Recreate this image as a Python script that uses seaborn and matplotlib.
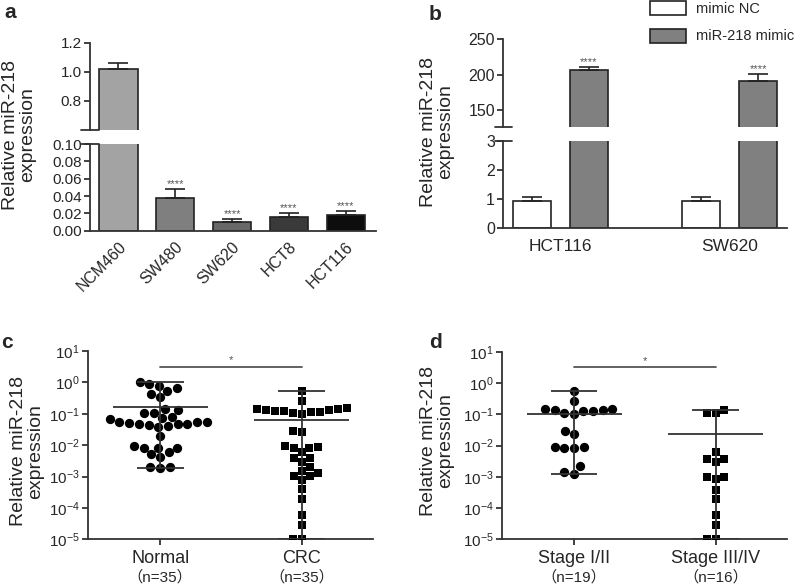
import matplotlib
matplotlib.use("Agg")
import matplotlib.pyplot as plt
import matplotlib.transforms as mtransforms
from matplotlib.patches import Patch
from matplotlib.ticker import FormatStrFormatter, NullLocator, LogLocator
import seaborn as sns
import pandas as pd
import numpy as np

# panel a: cell lines
lines_a = ["NCM460", "SW480", "SW620", "HCT8", "HCT116"]
expr_a = [1.02, 0.038, 0.0104, 0.0158, 0.0178]
err_a = [0.042, 0.0097, 0.0031, 0.005, 0.0046]
colors_a = ["#a3a3a3", "#7f7f7f", "#686868", "#3a3a3a", "#0d0d0d"]
stars_a = ["", "****", "****", "****", "****"]

# panel b: mimic transfection
lines_b = ["HCT116", "SW620"]
groups_b = ["mimic NC", "miR-218 mimic"]
colors_b = ["white", "#808080"]
nc_b = [0.93, 0.92]
nc_err_b = [0.14, 0.14]
mimic_b = [206.6, 190.4]
mimic_err_b = [4.3, 10.5]

# panel c: tissues
normal_c = [1.0, 0.86, 0.77, 0.65, 0.53, 0.43, 0.33, 0.14, 0.135,
            0.108, 0.103, 0.08, 0.072, 0.07, 0.055, 0.054, 0.053, 0.05,
            0.047, 0.046, 0.046, 0.045, 0.04, 0.039,
            0.02,
            0.0093, 0.0083, 0.0082, 0.0081, 0.0059, 0.0051, 0.0042,
            0.002, 0.00195, 0.0019]
crc_c = [0.54, 0.26,
         0.15, 0.145, 0.14, 0.13, 0.125, 0.12, 0.115, 0.11, 0.105, 0.1, 0.135,
         0.029, 0.026,
         0.0093, 0.0089, 0.0083, 0.0082,
         0.0059, 0.004, 0.0038,
         0.0029, 0.002,
         0.00151, 0.00126, 0.00106, 0.00105, 0.00078,
         0.00039, 0.00019, 0.000059, 0.000028, 0.00001, 0.00001]

# panel d: stages
early_d = [0.54, 0.26,
           0.142, 0.132, 0.126, 0.108, 0.1, 0.126, 0.132, 0.142,
           0.03, 0.024,
           0.0092, 0.0088, 0.0083, 0.0083,
           0.0022, 0.0014, 0.00126]
late_d = [0.138, 0.111, 0.11,
          0.0061, 0.0038, 0.0036, 0.0029,
          0.001, 0.001, 0.00082,
          0.00039, 0.0002, 0.000059, 0.000028, 0.00001, 0.00001]

sns.set_style("ticks")
plt.rcParams["font.family"] = ["Liberation Sans", "Noto Sans CJK SC", "DejaVu Sans"]
plt.rcParams["mathtext.default"] = "regular"

EDGE = "#222222"
AXC = "#333333"


def style(ax, bottom=True):
    sns.despine(ax=ax, bottom=not bottom)
    for s in ["left", "bottom"]:
        ax.spines[s].set_linewidth(1.3)
        ax.spines[s].set_color(AXC)
    ax.tick_params(width=1.3, length=4, color=AXC, labelsize=11, pad=2)
    ax.set_xlabel("")
    ax.set_ylabel("")


def break_marks(ax, where):
    y = 0 if where == "bottom" else 1
    ax.plot([-0.03, 0.03], [y, y], transform=ax.transAxes, color=AXC,
            lw=1.3, clip_on=False)


fig = plt.figure(figsize=(7.97, 5.85), dpi=100)

# ---------- a ----------
ax_at = fig.add_axes([0.1129, 0.7778, 0.3589, 0.1492])
ax_ab = fig.add_axes([0.1129, 0.6056, 0.3589, 0.1482])
df_a = pd.DataFrame({"line": lines_a, "expr": expr_a})
for ax in (ax_at, ax_ab):
    sns.barplot(data=df_a, x="line", y="expr", hue="line", palette=colors_a,
                legend=False, width=0.675, edgecolor=EDGE, linewidth=1.2,
                errorbar=None, ax=ax)
    ax.errorbar(range(len(lines_a)), expr_a, yerr=[np.zeros(len(err_a)), err_a],
                fmt="none", ecolor=EDGE, elinewidth=1.2, capsize=7, capthick=1.2)
    ax.set_xlim(-0.5, 4.53)
ax_at.set_ylim(0.6, 1.2)
ax_at.set_yticks([0.8, 1.0, 1.2])
ax_at.yaxis.set_major_formatter(FormatStrFormatter("%.1f"))
style(ax_at, bottom=False)
ax_at.set_xticks([])
break_marks(ax_at, "bottom")
ax_ab.set_ylim(0, 0.1)
ax_ab.set_yticks(np.arange(0, 0.101, 0.02))
ax_ab.yaxis.set_major_formatter(FormatStrFormatter("%.2f"))
style(ax_ab)
ax_ab.tick_params(axis="y", labelsize=11)
ax_at.tick_params(axis="y", labelsize=11)
break_marks(ax_ab, "top")
ax_ab.tick_params(axis="x", length=0, pad=6, labelsize=11.5)
plt.setp(ax_ab.get_xticklabels(), rotation=45, ha="right", rotation_mode="anchor")
for i, s in enumerate(stars_a):
    if s:
        ax_ab.annotate(s, (i, expr_a[i] + err_a[i]), xytext=(0, 0),
                       textcoords="offset points", ha="center", va="bottom",
                       fontsize=8, color="#555555")

# ---------- b ----------
ax_bt = fig.add_axes([0.6315, 0.7824, 0.3556, 0.1504])
ax_bb = fig.add_axes([0.6315, 0.6097, 0.3556, 0.1497])
df_b = pd.DataFrame({"line": lines_b * 2,
                     "group": [groups_b[0]] * 2 + [groups_b[1]] * 2,
                     "expr": nc_b + mimic_b})
err_b = {groups_b[0]: nc_err_b, groups_b[1]: mimic_err_b}
for ax in (ax_bt, ax_bb):
    sns.barplot(data=df_b, x="line", y="expr", hue="group", palette=colors_b,
                width=0.672, gap=0.33, edgecolor=EDGE, linewidth=1.2,
                errorbar=None, legend=False, ax=ax)
    for cont, g in zip(ax.containers, groups_b):
        xs = [p.get_x() + p.get_width() / 2 for p in cont]
        ax.errorbar(xs, cont.datavalues, yerr=[np.zeros(len(xs)), err_b[g]],
                    fmt="none", ecolor=EDGE, elinewidth=1.2, capsize=7, capthick=1.2)
    ax.set_xlim(-0.336, 1.336)
ax_bt.set_ylim(125, 250)
ax_bt.set_yticks([150, 200, 250])
style(ax_bt, bottom=False)
ax_bt.set_xticks([])
break_marks(ax_bt, "bottom")
ax_bb.set_ylim(0, 3)
ax_bb.set_yticks([0, 1, 2, 3])
style(ax_bb)
break_marks(ax_bb, "top")
ax_bb.tick_params(axis="x", length=0, pad=8, labelsize=12.5)
ax_bt.tick_params(axis="y", labelsize=11.5)
ax_bb.tick_params(axis="y", labelsize=11.5)
cont = ax_bt.containers[1]
for p, e in zip(cont, mimic_err_b):
    ax_bt.annotate("****", (p.get_x() + p.get_width() / 2, p.get_height() + e),
                   xytext=(0, 0), textcoords="offset points", ha="center",
                   va="bottom", fontsize=8, color="#555555")
handles = [Patch(facecolor=c, edgecolor=EDGE, linewidth=1.2) for c in colors_b]
fig.legend(handles, groups_b, loc="upper left", bbox_to_anchor=(0.8155, 0.998),
           frameon=False, borderpad=0, borderaxespad=0, handlelength=2.5,
           handleheight=1.1, labelspacing=0.85, handletextpad=0.65, fontsize=10.5)


# ---------- c / d ----------
def scatter_panel(ax, names, ns, v1, v2):
    sns.swarmplot(x=[names[0]] * len(v1), y=v1, order=names, color="black",
                  marker="o", size=6.7, log_scale=True, ax=ax)
    sns.swarmplot(x=[names[1]] * len(v2), y=v2, order=names, color="black",
                  marker="s", size=6.2, log_scale=True, ax=ax)
    for i, v in enumerate([v1, v2]):
        m, lo, hi = np.mean(v), np.min(v), np.max(v)
        ax.vlines(i, lo, hi, color=AXC, lw=1.3, zorder=4)
        ax.hlines(m, i - 0.335, i + 0.335, color=AXC, lw=1.3, zorder=4)
        ax.hlines([lo, hi], i - 0.165, i + 0.165, color=AXC, lw=1.3, zorder=4)
    ax.set_ylim(1e-5, 10)
    ax.set_xlim(-0.51, 1.5)
    ax.yaxis.set_major_locator(LogLocator(base=10, numticks=10))
    ax.yaxis.set_minor_locator(NullLocator())
    style(ax)
    ax.tick_params(axis="y", labelsize=11)
    ax.tick_params(axis="x", labelsize=13, pad=4)
    ax.plot([0, 1], [3.16, 3.16], color="#555555", lw=1.3)
    ax.annotate("*", (0.5, 3.16), xytext=(0, 1), textcoords="offset points",
                ha="center", va="bottom", fontsize=8, color="#555555")
    tr = mtransforms.blended_transform_factory(ax.transData, ax.transAxes)
    for i, n in enumerate(ns):
        ax.text(i, -0.2, f"（n={n}）", transform=tr, ha="center", va="center",
                fontsize=11)


ax_c = fig.add_axes([0.1104, 0.0781, 0.3572, 0.3219])
scatter_panel(ax_c, ["Normal", "CRC"], [35, 35], normal_c, crc_c)
ax_d = fig.add_axes([0.6295, 0.0781, 0.3576, 0.3207])
scatter_panel(ax_d, ["Stage I/II", "Stage III/IV"], [19, 16], early_d, late_d)

# y labels and panel letters
ylab = "Relative miR-218\nexpression"
for x, y in [(19, 134.5), (437, 131.7), (27, 451.5), (437, 441)]:
    fig.text(x / 797, 1 - y / 585, ylab, rotation=90, ha="center", va="center",
             fontsize=14, multialignment="center", linespacing=1.05)
for s, x, y in [("a", 10, 13), ("b", 435, 15), ("c", 7, 343), ("d", 435, 342)]:
    fig.text(x / 797, 1 - y / 585, s, ha="center", va="center",
             fontsize=15, fontweight="bold")

fig.savefig("out.png", dpi=100)
